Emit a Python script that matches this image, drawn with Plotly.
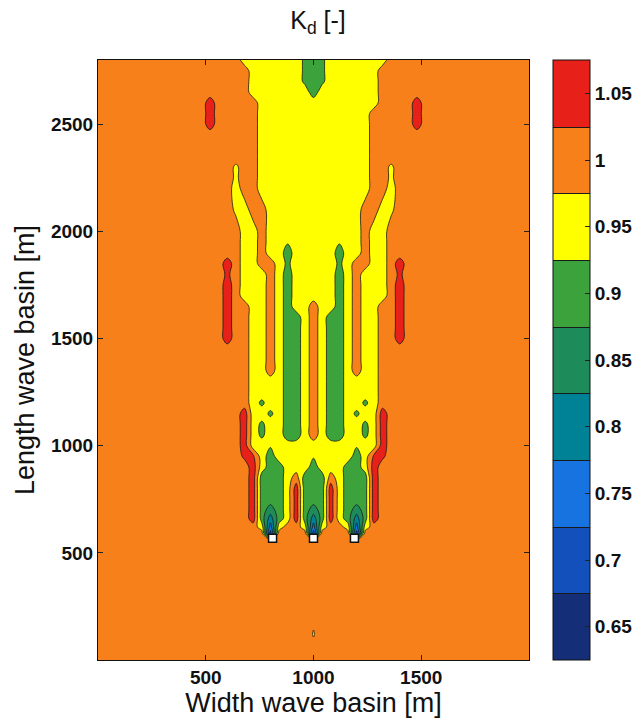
import plotly.graph_objects as go

# ---- grid (metres) ----
x_m = [0, 440, 480, 520, 560, 600, 640, 680, 720, 760, 800, 840, 880, 920, 960,
       1000, 1040, 1080, 1120, 1160, 1200, 1240, 1280, 1320, 1360, 1400, 1440,
       1480, 1520, 1560, 2000]

# rows listed from the top of the basin (y = 2800) down to y = 0
y_rows = [2800, 2750, 2700, 2650, 2600, 2550, 2500, 2450, 2400, 2350, 2300,
          2250, 2200, 2100, 2000, 1950, 1900, 1850, 1800, 1750, 1700, 1650,
          1600, 1550, 1500, 1450, 1400, 1350, 1300, 1250, 1200, 1150, 1100,
          1050, 1000, 950, 900, 850, 800, 750, 700, 660, 620, 590, 560, 500,
          300, 120, 0]

# Kd class read at every grid point (one character per column)
kd_rows = [
    "ooooooo" "yyyyyyy" "hgh" "yyyyyyy" "ooooooo",      # 2800
    "oooooooo" "yyyyyy" "hgh" "yyyyyy" "oooooooo",      # 2750
    "oooooooo" "yyyyyy" "hgh" "yyyyyy" "oooooooo",      # 2700
    "oooooooo" "yyyyyyy" "g" "yyyyyyy" "oooooooo",      # 2650
    "ooorooooo" "yyyyyyyyyyyyyy" "oooorooo",            # 2600
    "ooorooooo" "yyyyyyyyyyyyy" "ooooorooo",            # 2550
    "ooorooooo" "yyyyyyyyyyyyy" "ooooorooo",            # 2500
    "ooooooooo" "yyyyyyyyyyyyy" "ooooooooo",            # 2450
    "ooooooooo" "yyyyyyyyyyyyy" "ooooooooo",            # 2400
    "ooooooooo" "yyyyyyyyyyyyy" "ooooooooo",            # 2350
    "ooooooYoo" "yyyyyyyyyyyyy" "ooYoooooo",            # 2300
    "ooooooYoo" "yyyyyyyyyyyyy" "ooYoooooo",            # 2250
    "ooooooyoo" "yyyyyyyyyyyyy" "ooyoooooo",            # 2200
    "ooooooYyoo" "yyyyyyyyyyy" "ooyYoooooo",            # 2100
    "oooooooyyo" "yyyyyyyyyyy" "oyyooooooo",            # 2000
    "oooooooyyo" "yykyyyyykyy" "oyyooooooo",            # 1950
    "oooooooyyo" "yygyyyyygyy" "oyyooooooo",            # 1900
    "oooooroyyoo" "yhyyyyyhy" "ooyyorooooo",            # 1850
    "oooooRoyyyo" "ygyyyyygy" "oyyyoRooooo",            # 1800
    "oooooroyyyo" "ygyyyyygy" "oyyyorooooo",            # 1750
    "oooooroyyyo" "ygyyyyygy" "oyyyorooooo",            # 1700
    "ooooorooyyo" "ygyyoyygy" "oyyoorooooo",            # 1650
    "ooooorooyyo" "yggyoyggy" "oyyoorooooo",            # 1600
    "ooooorooyyo" "yggyoyggy" "oyyoorooooo",            # 1550
    "ooooorooyyo" "yggyoyggy" "oyyoorooooo",            # 1500
    "ooooooooyyo" "yggyoyggy" "oyyoooooooo",            # 1450
    "ooooooooyyo" "yggyoyggy" "oyyoooooooo",            # 1400
    "ooooooooyyo" "yggyoyggy" "oyyoooooooo",            # 1350
    "oooooooo" "yyyyggyoyggyyyy" "oooooooo",            # 1300
    "oooooooo" "yyyyggyoyggyyyy" "oooooooo",            # 1250
    "oooooooo" "yhyyggyoyggyyhy" "oooooooo",            # 1200
    "ooooooor" "yyhyggyoyggyhyy" "rooooooo",            # 1150
    "ooooooor" "yhyyggyoyggyyhy" "rooooooo",            # 1100
    "ooooooor" "yhyyggyoyggyyhy" "rooooooo",            # 1050
    "ooooooor" "yykyyyyyyyyykyy" "rooooooo",            # 1000
    "oooooooRR" "ygyyyykyyyygy" "RRooooooo",            # 950
    "oooooooor" "yggyyygyyyggy" "roooooooo",            # 900
    "oooooooor" "gggyogggoyggg" "roooooooo",            # 850
    "oooooooor" "gggyrgggryggg" "roooooooo",            # 800
    "oooooooor" "gggyrgggryggg" "roooooooo",            # 750
    "oooooooor" "gGgyrgGgrygGg" "roooooooo",            # 700
    "oooooooor" "gtgyrgtgrygtg" "roooooooo",            # 660
    "ooooooooo" "ybyooybyooyby" "ooooooooo",            # 620
    "oooooooooo" "Boooo" "Boooo" "Boooooooooo",         # 590
    "ooooooooooooooooooooooooooooooo",                  # 560
    "ooooooooooooooooooooooooooooooo",                  # 500
    "ooooooooooooooooooooooooooooooo",                  # 300
    "ooooooooooooooo" "d" "ooooooooooooooo",            # 120
    "ooooooooooooooooooooooooooooooo",                  # 0
]

kd_of_class = {"o": 1.00, "r": 1.05, "R": 1.035, "d": 0.972, "Y": 0.965,
               "y": 0.95, "k": 0.93, "h": 0.915, "g": 0.90, "G": 0.85,
               "t": 0.80, "b": 0.75, "B": 0.70, "n": 0.65}

# structures (white blocks) at the basin entrance
struct_x = [810, 1000, 1190]
struct_y = [568, 568, 568]

cbar_ticks = [0.65, 0.7, 0.75, 0.8, 0.85, 0.9, 0.95, 1.0, 1.05]
cbar_text = ["0.65", "0.7", "0.75", "0.8", "0.85", "0.9", "0.95", "1", "1.05"]
band_colors = ["#142F78", "#1450BC", "#1673E0", "#008296", "#1E8C5A",
               "#3CA33C", "#FFFF00", "#F7801A", "#E8201A"]

x_ticks = [500, 1000, 1500]
y_ticks = [500, 1000, 1500, 2000, 2500]

# ---- build ----
for r in kd_rows:
    assert len(r) == len(x_m), (r, len(r))
assert len(kd_rows) == len(y_rows)

y_m = y_rows[::-1]
z = [[kd_of_class[c] for c in row] for row in kd_rows[::-1]]

n = len(band_colors)
# colours for the filled contour bands (band midpoints at i/(n-1))
cscale_fill = [[i / (n - 1), c] for i, c in enumerate(band_colors)]
# stepped scale for the colour bar (zmin..zmax split in n equal bands)
cscale_bar = []
for i, c in enumerate(band_colors):
    cscale_bar.append([i / n, c])
    cscale_bar.append([(i + 1) / n, c])

FONT = "Liberation Sans"
LEVELS = dict(start=0.675, end=1.025, size=0.05)

fig = go.Figure()
fig.add_trace(go.Contour(
    x=x_m, y=y_m, z=z,
    contours=dict(coloring="fill", showlines=True, **LEVELS),
    line=dict(color="#1a1a1a", width=0.8, smoothing=1),
    colorscale=cscale_fill,
    showscale=False,
    hoverinfo="skip",
))
# colour-bar carrier (lies outside the visible axis ranges)
fig.add_trace(go.Contour(
    x=[3000, 3100], y=[4000, 4100],
    z=[[0.625, 1.075], [0.625, 1.075]],
    zmin=0.625, zmax=1.075,
    contours=dict(coloring="heatmap", showlines=True, **LEVELS),
    line=dict(color="#1a1a1a", width=1),
    colorscale=cscale_bar,
    hoverinfo="skip",
    colorbar=dict(
        x=(553 - 98) / 431, xanchor="left", xpad=0,
        y=0.5, yanchor="middle", len=1, lenmode="fraction", ypad=0,
        thickness=37, thicknessmode="pixels",
        outlinecolor="#111", outlinewidth=1,
        tickvals=cbar_ticks, ticktext=cbar_text,
        ticks="inside", ticklen=5, tickcolor="#222",
        tickfont=dict(family=FONT, size=19, color="#111", weight="bold"),
    ),
))
fig.add_trace(go.Scatter(
    x=struct_x, y=struct_y, mode="markers", hoverinfo="skip",
    marker=dict(symbol="square", size=8, color="white",
                line=dict(color="#111", width=1.5)),
    showlegend=False,
))

axis_common = dict(
    ticks="inside", ticklen=5, tickcolor="#222", showline=True,
    linecolor="#111", linewidth=1, mirror="ticks", showgrid=False,
    zeroline=False, automargin=False,
    tickfont=dict(family=FONT, size=19, color="#111", weight="bold"),
)
fig.update_layout(
    width=638, height=723, autosize=False,
    margin=dict(l=98, r=109, t=60, b=63, autoexpand=False),
    paper_bgcolor="white", plot_bgcolor="white",
    showlegend=False,
    title=dict(text="K<sub>d</sub> [-]", x=(318 - 98) / 431, xref="paper",
               xanchor="center", y=1 - 20 / 723, yref="container",
               yanchor="middle",
               font=dict(family=FONT, size=25, color="#111")),
    xaxis=dict(range=[0, 2000], tickvals=x_ticks,
               title=dict(text="Width wave basin [m]", standoff=2,
                          font=dict(family=FONT, size=27, color="#111")),
               **axis_common),
    yaxis=dict(range=[0, 2800], tickvals=y_ticks,
               title=dict(text="Length wave basin [m]", standoff=8,
                          font=dict(family=FONT, size=27, color="#111")),
               **axis_common),
)

fig.write_html(
    "out.html",
    config={"displayModeBar": False, "responsive": False},
    post_script="document.body.style.margin='0';"
                "document.body.style.overflow='hidden';",
)
